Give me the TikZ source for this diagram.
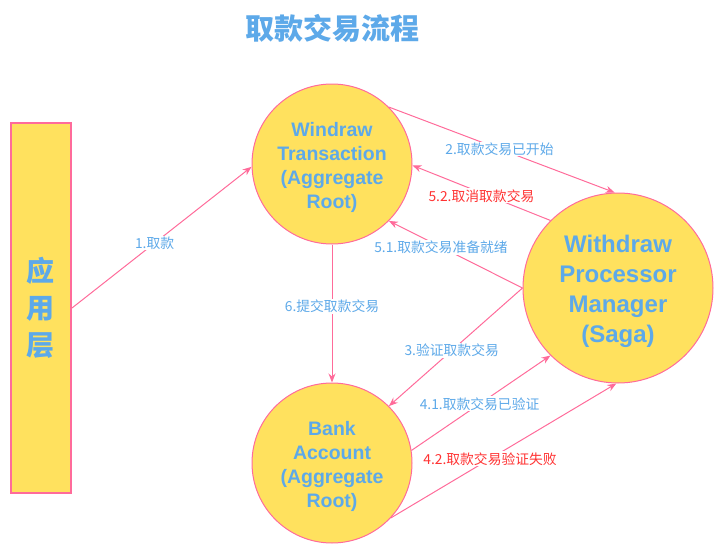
\documentclass[tikz,border=0pt]{standalone}
\usepackage{fontspec}
\setmainfont{Liberation Sans}
\newfontfamily\cjk{Noto Sans CJK SC}
\usetikzlibrary{arrows.meta}
\definecolor{pinkline}{HTML}{FF6B9A}
\definecolor{yel}{HTML}{FFE15E}
\definecolor{txtblue}{HTML}{5DA9E9}
\definecolor{txtred}{HTML}{FF3333}
\tikzset{
  circ/.style={circle,draw=pinkline,fill=yel,line width=1pt,minimum size=160pt,inner sep=0pt},
  bigcirc/.style={circ,minimum size=190pt},
  circtext/.style={align=center,text=txtblue,inner sep=0pt,font=\bfseries\fontsize{19.5}{24}\selectfont},
  bigtext/.style={circtext,font=\bfseries\fontsize{24}{30}\selectfont},
  conn/.style={draw=pinkline,line width=1pt,-{Stealth[length=9pt,width=7pt]}},
  lbl/.style={fill=white,inner sep=1pt,font=\cjk\fontsize{13.8}{15}\selectfont,text=txtblue},
  lblred/.style={lbl,text=txtred}
}
\begin{document}
\begin{tikzpicture}[x=1pt,y=-1pt]
\useasboundingbox (0,0) rectangle (724,554);
\node[text=txtblue,font=\cjk\bfseries\fontsize{29}{34}\selectfont] (title) at (332,28) {取款交易流程};
\node[draw=pinkline,fill=yel,line width=2pt,minimum width=60pt,minimum height=370pt,inner sep=0pt] (app) at (41,308) {};
\node[text=txtblue,align=center,font=\cjk\bfseries\fontsize{28}{37}\selectfont] (applbl) at (41,308) {应\\用\\层};
\node[circ] (wt) at (332,164) {};
\node[circ] (ba) at (332,463) {};
\node[bigcirc] (pm) at (618,288) {};
\node[circtext] (wtt) at ([yshift=-3pt]wt.center) {Windraw\\Transaction\\(Aggregate\\Root)};
\node[circtext] (bat) at ([yshift=-3pt]ba.center) {Bank\\Account\\(Aggregate\\Root)};
\node[bigtext] (pmt) at ([yshift=-3pt]pm.center) {Withdraw\\Processor\\Manager\\(Saga)};
\draw[conn] (app.east) -- node[lbl,pos=0.46] (l1) {1.取款} (wt.182);
\draw[conn] (wt.45) -- node[lbl,pos=0.49] (l2) {2.取款交易已开始} (pm.92);
\draw[conn] (pm.135) -- node[lblred,pos=0.5,yshift=-3pt] (l52) {5.2.取消取款交易} (wt.-1);
\draw[conn] (pm.180) -- node[lbl,pos=0.61] (l51) {5.1.取款交易准备就绪} (wt.-45);
\draw[conn] (wt.south) -- node[lbl,pos=0.45] (l6) {6.提交取款交易} (ba.north);
\draw[conn] (pm.180) -- node[lbl,pos=0.53] (l3) {3.验证取款交易} (ba.45);
\draw[conn] (ba.9) -- node[lbl,pos=0.49] (l41) {4.1.取款交易已验证} (pm.225);
\draw[conn] (ba.-43) -- node[lblred,pos=0.44] (l42) {4.2.取款交易验证失败} (pm.-91);
\end{tikzpicture}
\end{document}
